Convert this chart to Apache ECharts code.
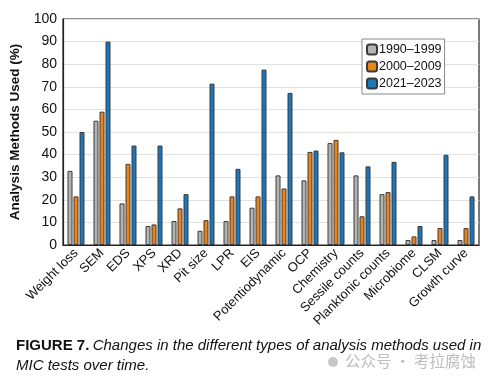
<!DOCTYPE html>
<html><head><meta charset="utf-8">
<script src="https://cdn.jsdelivr.net/npm/echarts@6/dist/echarts.min.js"></script>
<style>html,body{margin:0;padding:0;background:#fff}#c{width:488px;height:380px}</style>
</head><body><div id="c"></div>
<script>
const categories = ['Weight loss','SEM','EDS','XPS','XRD','Pit size','LPR','EIS','Potentiodynamic','OCP','Chemistry','Sessile counts','Planktonic counts','Microbiome','CLSM','Growth curve'];
const s1990 = [32.8,55,18.4,8.4,10.6,6.3,10.6,16.5,30.8,28.6,45.1,30.8,22.5,2.2,2.2,2.2];
const s2000 = [21.5,59,35.9,9.1,16.2,11,21.5,21.5,25,41.2,46.5,12.7,23.4,3.8,7.5,7.5];
const s2021 = [50,90,44,44,22.5,71.4,33.7,77.6,67.3,41.8,41,34.8,36.8,8.4,39.9,21.5];
const seriesNames = ['1990–1999','2000–2009','2021–2023'];
const yTicks = [0,10,20,30,40,50,60,70,80,90,100];

const font = '"Liberation Sans", Arial, Helvetica, sans-serif';
const colors = ['#b4b4b4','#ec8419','#1c77ba'];
const chart = echarts.init(document.getElementById('c'));
const mk = (name, data, i) => ({
  name, type:'bar', data, barWidth:5, barGap:'20%',
  itemStyle:{color:colors[i], borderColor:'#3a3a3a', borderWidth:1}
});
chart.setOption({
  animation:false,
  textStyle:{fontFamily:font},
  grid:{left:63,right:9,top:19,bottom:135,show:true,borderColor:'#222',borderWidth:1.2,backgroundColor:'transparent'},
  legend:{
    left:362, top:39, orient:'vertical', itemWidth:10, itemHeight:10, itemGap:4,
    padding:[4,3,4,4], borderColor:'#888', borderWidth:1, backgroundColor:'#fff',
    textStyle:{fontFamily:font,fontSize:12.5,color:'#111',padding:[0,0,0,-3]},
    data:seriesNames
  },
  xAxis:{
    type:'category', data:categories,
    axisLine:{lineStyle:{color:'#222',width:1.2}}, axisTick:{show:false},
    axisLabel:{rotate:45, interval:0, fontSize:13, color:'#111', margin:6, fontFamily:font}
  },
  yAxis:{
    type:'value', min:0, max:100, interval:10,
    name:'Analysis Methods Used (%)', nameLocation:'middle', nameGap:36,
    nameTextStyle:{fontSize:13.5, fontWeight:'bold', color:'#111', fontFamily:font},
    axisLine:{show:true,lineStyle:{color:'#222',width:1.2}}, axisTick:{show:false},
    axisLabel:{fontSize:14, color:'#111', margin:6, fontFamily:font,
      formatter:v=>yTicks.includes(v)?String(v):''},
    splitLine:{lineStyle:{color:'#e2e2e2',width:1}}
  },
  series:[mk(seriesNames[0],s1990,0),mk(seriesNames[1],s2000,1),mk(seriesNames[2],s2021,2)],
  graphic:[
    {type:'text', left:16, top:338, style:{rich:{
      b:{fontFamily:font,fontSize:15,fontWeight:'bold',fill:'#111'},
      i:{fontFamily:font,fontSize:15,fontStyle:'italic',fill:'#111'}},
      text:'{b|FIGURE 7.} {i|Changes in the different types of analysis methods used in}'}},
    {type:'text', left:16, top:358, style:{text:'MIC tests over time.',fontFamily:font,fontSize:15,fontStyle:'italic',fill:'#111'}},
    {type:'circle', shape:{cx:333,cy:362,r:5}, style:{fill:'#c8c8c8'}},
    {type:'text', left:345, top:353, style:{text:'公众号 · 考拉腐蚀',fontFamily:'"Noto Sans CJK SC"',fontSize:15.5,fill:'#bdbdbd'}}
  ]
});
</script></body></html>
